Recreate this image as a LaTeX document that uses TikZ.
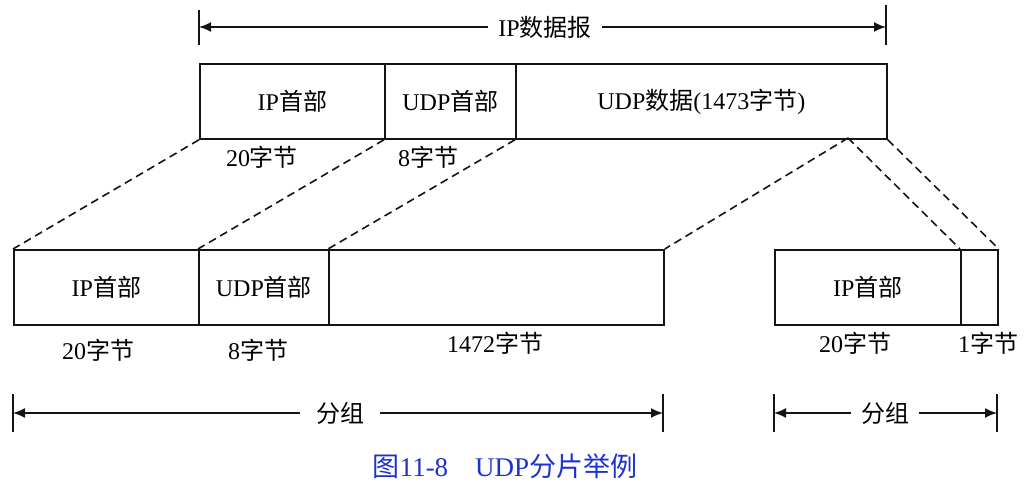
\documentclass[tikz,border=0pt]{standalone}
\usepackage{fontspec}
\setmainfont{Liberation Serif}
\newfontfamily\cjk{Noto Sans CJK SC}
\usepackage{xcolor}
\usepackage{tikz}
\usetikzlibrary{arrows.meta, positioning, calc}
\definecolor{UDPInk}{RGB}{20, 20, 20}
\definecolor{UDPCaption}{RGB}{30, 50, 205}
\newcommand{\zh}[1]{{\cjk #1}}

\tikzset{
  pktbox/.style={draw=UDPInk, line width=0.9pt, anchor=north west, inner sep=0pt,
    minimum height=37.5pt, font=\fontsize{12}{14}\selectfont},
  sizelbl/.style={inner sep=1pt, font=\fontsize{12}{14}\selectfont},
  spanlbl/.style={inner sep=4pt, fill=white, font=\fontsize{12}{14}\selectfont},
  spanarrow/.style={draw=UDPInk, line width=0.8pt, -{Latex[length=6pt,width=5pt]}},
  spantick/.style={draw=UDPInk, line width=0.7pt},
  mapline/.style={draw=UDPInk, line width=0.8pt, dash pattern=on 4pt off 2.5pt}
}

\begin{document}
\begin{tikzpicture}[x=0.5pt, y=-0.5pt]
  \useasboundingbox (0,0) rectangle (1025,485);

  % IP datagram
  \node[pktbox, minimum width=92.5pt] (iphdr) at (199,63) {IP\zh{首部}};
  \node[pktbox, minimum width=65.5pt] (udphdr) at (384,63) {UDP\zh{首部}};
  \node[pktbox, minimum width=185.5pt] (udpdata) at (515,63) {UDP\zh{数据}(1473\zh{字节})};
  \coordinate (split) at (848,138);
  \node[sizelbl] (iphdrsz) at (262,157) {20\zh{字节}};
  \node[sizelbl] (udphdrsz) at (428,157) {8\zh{字节}};

  % first fragment
  \node[pktbox, minimum width=92.5pt] (fragaip) at (13,249) {IP\zh{首部}};
  \node[pktbox, minimum width=65pt] (fragaudp) at (198,249) {UDP\zh{首部}};
  \node[pktbox, minimum width=167.5pt] (fragadata) at (328,249) {};
  \node[sizelbl] (fragaipsz) at (98,350) {20\zh{字节}};
  \node[sizelbl] (fragaudpsz) at (258,350) {8\zh{字节}};
  \node[sizelbl] (fragadatasz) at (495,343) {1472\zh{字节}};

  % second fragment
  \node[pktbox, minimum width=93pt] (fragbip) at (774,249) {IP\zh{首部}};
  \node[pktbox, minimum width=18.5pt] (fragbdata) at (960,249) {};
  \node[sizelbl] (fragbipsz) at (855,343) {20\zh{字节}};
  \node[sizelbl] (fragbdatasz) at (988,343) {1\zh{字节}};

  % mapping
  \draw[mapline] (iphdr.south west) -- (fragaip.north west);
  \draw[mapline] (udphdr.south west) -- (fragaudp.north west);
  \draw[mapline] (udpdata.south west) -- (fragadata.north west);
  \draw[mapline] (split) -- (fragadata.north east);
  \draw[mapline] (split) -- (fragbdata.north west);
  \draw[mapline] (udpdata.south east) -- (fragbdata.north east);

  % spans
  \coordinate (dgL) at (199,27);
  \coordinate (dgR) at (886,27);
  \node[spanlbl, inner sep=5pt] (dglbl) at (545,27) {IP\zh{数据报}};
  \draw[spantick] ($(dgL)+(0,-17)$) -- ($(dgL)+(0,18)$);
  \draw[spantick] ($(dgR)+(0,-22)$) -- ($(dgR)+(0,18)$);
  \draw[spanarrow] (dglbl) -- (dgL);
  \draw[spanarrow] (dglbl) -- (dgR);

  \coordinate (faL) at (13,413);
  \coordinate (faR) at (663,413);
  \node[spanlbl, inner sep=8pt] (falbl) at (340,413) {\zh{分组}};
  \draw[spantick] ($(faL)+(0,-19)$) -- ($(faL)+(0,19)$);
  \draw[spantick] ($(faR)+(0,-19)$) -- ($(faR)+(0,19)$);
  \draw[spanarrow] (falbl) -- (faL);
  \draw[spanarrow] (falbl) -- (faR);

  \coordinate (fbL) at (774,413);
  \coordinate (fbR) at (997,413);
  \node[spanlbl, inner sep=5pt] (fblbl) at (885,413) {\zh{分组}};
  \draw[spantick] ($(fbL)+(0,-19)$) -- ($(fbL)+(0,19)$);
  \draw[spantick] ($(fbR)+(0,-19)$) -- ($(fbR)+(0,19)$);
  \draw[spanarrow] (fblbl) -- (fbL);
  \draw[spanarrow] (fblbl) -- (fbR);

  \node[font=\fontsize{13.5}{15}\selectfont, text=UDPCaption] (caption) at (505,466)
    {\zh{图}11-8\hspace{1em}UDP\zh{分片举例}};
\end{tikzpicture}
\end{document}
